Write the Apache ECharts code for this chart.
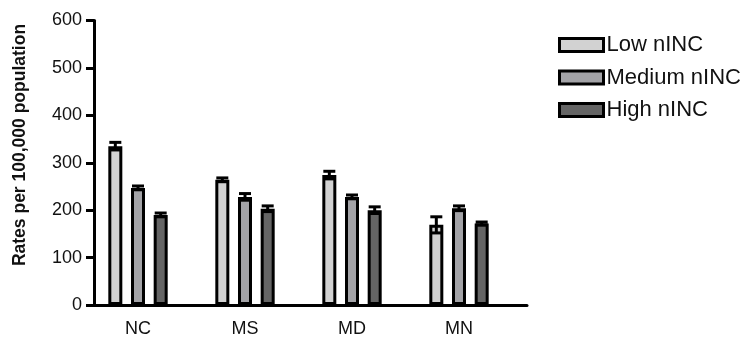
<!DOCTYPE html>
<html>
<head>
<meta charset="utf-8">
<script src="https://cdn.jsdelivr.net/npm/echarts@6/dist/echarts.min.js"></script>
<style>
html,body{margin:0;padding:0;background:#fff;}
#chart{width:746px;height:339px;}
</style>
</head>
<body>
<div id="chart"></div>
<script>
// ---- data ----
const categories = ['NC', 'MS', 'MD', 'MN'];
const seriesNames = ['Low nINC', 'Medium nINC', 'High nINC'];
const lowValues = [335, 264, 274, 169];
const lowErrors = [8, 4, 8, 17];
const mediumValues = [247, 228, 228, 204];
const mediumErrors = [4, 7, 4, 5];
const highValues = [190, 203, 200, 172];
const highErrors = [4, 6, 7, 3];
const yTicks = [0, 100, 200, 300, 400, 500, 600];

// ---- style ----
const FONT = 'Liberation Sans, Arial, sans-serif';
const colors = ['#d2d2d2', '#a3a3a7', '#656565'];
const BAR_W = 14;
const GAP_RATIO = 0.62;

const values = [lowValues, mediumValues, highValues];
const errors = [lowErrors, mediumErrors, highErrors];

const chart = echarts.init(document.getElementById('chart'));

const barSeries = seriesNames.map((name, i) => ({
  name: name,
  type: 'bar',
  xAxisIndex: 0,
  yAxisIndex: 0,
  barWidth: BAR_W,
  barGap: (GAP_RATIO * 100) + '%',
  data: values[i],
  itemStyle: { color: colors[i], borderColor: '#000', borderWidth: 3 },
  z: 2
}));

const errSeries = seriesNames.map((name, i) => ({
  type: 'custom',
  xAxisIndex: 0,
  yAxisIndex: 0,
  z: 5,
  silent: true,
  data: values[i].map((v, k) => [k, v, errors[i][k]]),
  renderItem: function (params, api) {
    const idx = api.value(0), v = api.value(1), e = api.value(2);
    const off = (i - 1) * BAR_W * (1 + GAP_RATIO);
    const top = api.coord([idx, v + e]);
    const bot = api.coord([idx, v - e]);
    const x = top[0] + off;
    const half = 6;
    const st = { stroke: '#000', lineWidth: 3 };
    return {
      type: 'group',
      children: [
        { type: 'line', shape: { x1: x, y1: top[1], x2: x, y2: bot[1] }, style: st },
        { type: 'line', shape: { x1: x - half, y1: top[1], x2: x + half, y2: top[1] }, style: st },
        { type: 'line', shape: { x1: x - half, y1: bot[1], x2: x + half, y2: bot[1] }, style: st }
      ]
    };
  }
}));

chart.setOption({
  animation: false,
  backgroundColor: '#fff',
  textStyle: { fontFamily: FONT },
  grid: [
    { left: 84.5, width: 428, top: 20.5, height: 284.5 },
    { left: 94, width: 433, top: 20.5, height: 284.5 }
  ],
  legend: {
    orient: 'vertical',
    left: 553,
    top: 29,
    itemWidth: 44,
    itemHeight: 13,
    itemGap: 10.5,
    icon: 'rect',
    data: seriesNames,
    itemStyle: { borderColor: '#000', borderWidth: 3 },
    textStyle: { fontFamily: FONT, fontSize: 22, color: '#111', lineHeight: 22, padding: [0, 0, 0, -2] }
  },
  xAxis: [
    {
      type: 'category',
      gridIndex: 0,
      data: categories,
      axisLine: { show: false },
      axisTick: { show: false },
      axisLabel: { fontFamily: FONT, fontSize: 18, color: '#111', margin: 15 }
    },
    {
      type: 'value',
      gridIndex: 1,
      min: 0,
      max: 1,
      axisLine: { show: true, lineStyle: { color: '#000', width: 3 } },
      axisTick: { show: false },
      axisLabel: { show: false },
      splitLine: { show: false }
    }
  ],
  yAxis: [
    {
      type: 'value',
      gridIndex: 0,
      min: yTicks[0],
      max: yTicks[yTicks.length - 1],
      interval: 100,
      offset: -9.5,
      axisLine: { show: true, lineStyle: { color: '#000', width: 3 } },
      axisTick: { show: true, length: 8, lineStyle: { color: '#000', width: 3 } },
      axisLabel: { fontFamily: FONT, fontSize: 18, color: '#111', margin: 12 },
      splitLine: { show: false }
    },
    {
      type: 'value',
      gridIndex: 1,
      min: 0,
      max: 600,
      show: false
    }
  ],
  graphic: [
    {
      type: 'text',
      x: 20,
      y: 145,
      rotation: Math.PI / 2,
      style: {
        text: 'Rates per 100,000 population',
        font: 'bold 17.5px ' + FONT,
        fill: '#111',
        align: 'center',
        verticalAlign: 'middle'
      }
    }
  ],
  series: barSeries.concat(errSeries)
});
</script>
</body>
</html>
